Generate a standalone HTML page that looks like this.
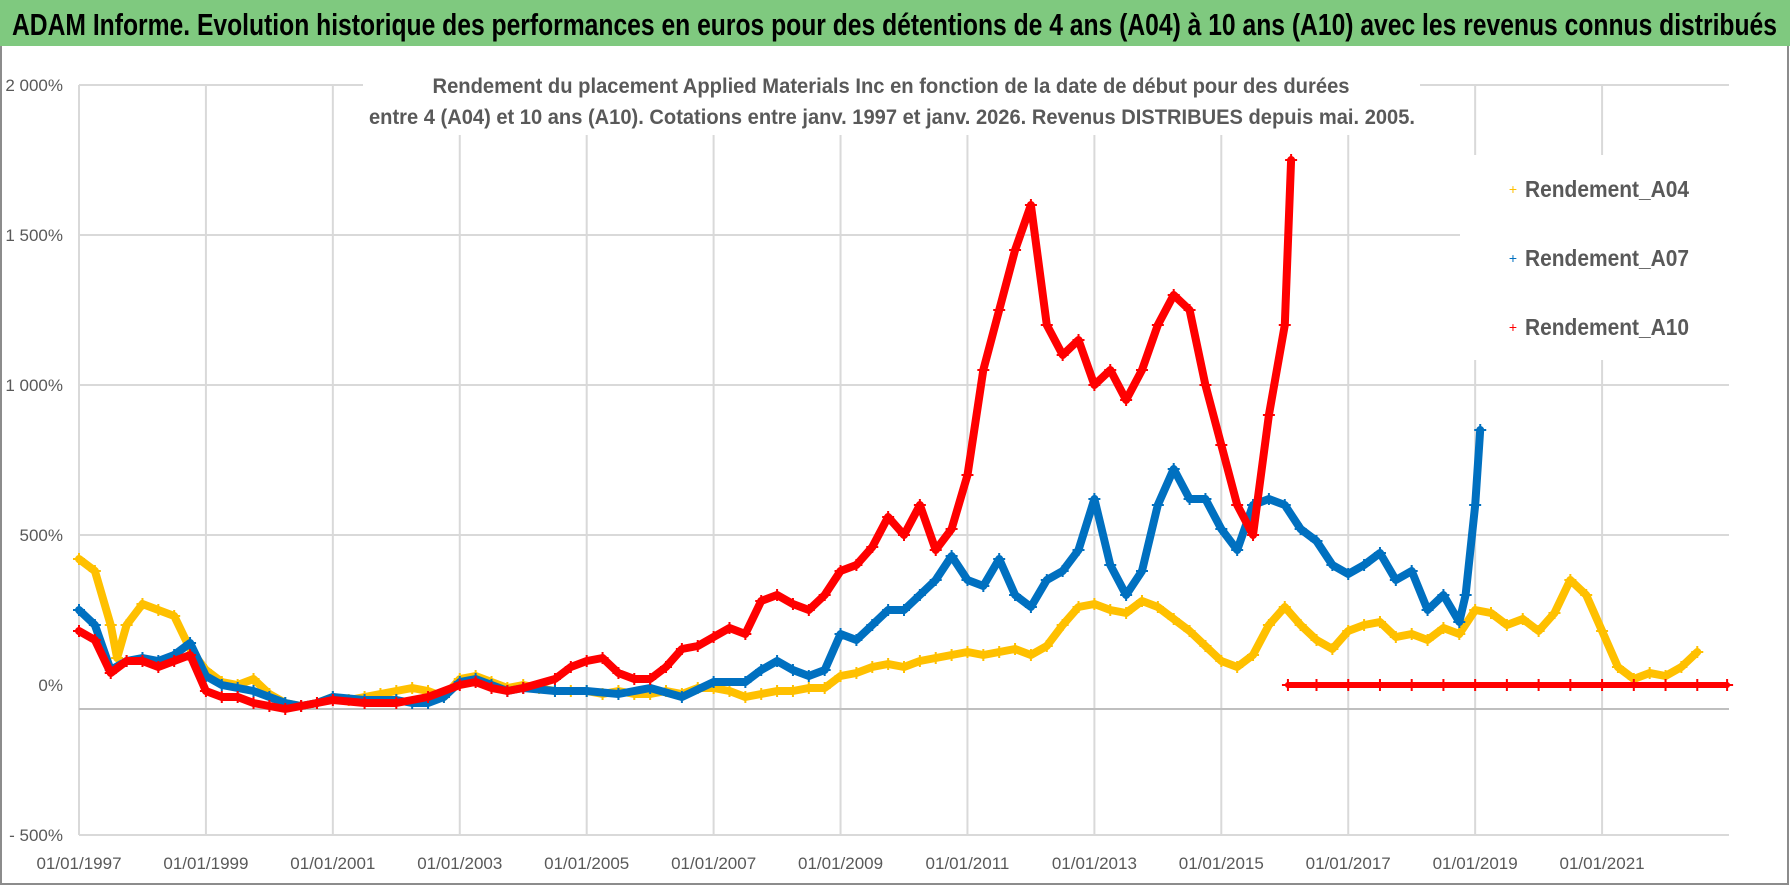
<!DOCTYPE html>
<html><head><meta charset="utf-8"><style>
html,body{margin:0;padding:0;background:#fff}
svg{display:block}
text{font-family:"Liberation Sans Narrow","Liberation Sans",sans-serif}
</style></head><body>
<svg id="chart" width="1790" height="886" viewBox="0 0 1790 886" xmlns="http://www.w3.org/2000/svg">
<rect x="0" y="0" width="1790" height="886" fill="#fff"/>
<rect x="1" y="45" width="1787" height="839" fill="#fff" stroke="#8c8c8c" stroke-width="2"/>
<rect x="0" y="0" width="1790" height="46" fill="#7fc97f"/>
<text x="12" y="35" font-size="31" font-weight="bold" fill="#000" textLength="1765" lengthAdjust="spacingAndGlyphs">ADAM Informe. Evolution historique des performances en euros pour des détentions de 4 ans (A04) à 10 ans (A10) avec les revenus connus distribués</text>
<g id="grid"></g>
<rect x="363" y="68" width="1057" height="67" fill="#fff"/>
<text x="891" y="93" font-size="21" font-weight="bold" fill="#595959" text-anchor="middle" textLength="917" lengthAdjust="spacingAndGlyphs">Rendement du placement Applied Materials Inc en fonction de la date de début pour des durées</text>
<text x="892" y="124" font-size="21" font-weight="bold" fill="#595959" text-anchor="middle" textLength="1046" lengthAdjust="spacingAndGlyphs">entre 4 (A04) et 10 ans (A10). Cotations entre janv. 1997 et janv. 2026. Revenus DISTRIBUES depuis mai. 2005.</text>
<rect x="1460" y="155" width="270" height="205" fill="#fff"/>
<g id="axes"></g>
<g id="series"></g>
<g>
 <g><text x="1513" y="194" font-size="14" fill="#ffc000" text-anchor="middle">+</text><text x="1525" y="197" font-size="23" font-weight="bold" fill="#595959" textLength="164" lengthAdjust="spacingAndGlyphs">Rendement_A04</text></g>
 <g><text x="1513" y="263" font-size="14" fill="#0070c0" text-anchor="middle">+</text><text x="1525" y="266" font-size="23" font-weight="bold" fill="#595959" textLength="164" lengthAdjust="spacingAndGlyphs">Rendement_A07</text></g>
 <g><text x="1513" y="332" font-size="14" fill="#ff0000" text-anchor="middle">+</text><text x="1525" y="335" font-size="23" font-weight="bold" fill="#595959" textLength="164" lengthAdjust="spacingAndGlyphs">Rendement_A10</text></g>
</g>
</svg>
<script>
const yTicks = [2000, 1500, 1000, 500, 0, -500];
const yTickLabels = ["2 000%", "1 500%", "1 000%", "500%", "0%", "- 500%"];
const xTickYears = [1997, 1999, 2001, 2003, 2005, 2007, 2009, 2011, 2013, 2015, 2017, 2019, 2021];
const xTickLabels = ["01/01/1997","01/01/1999","01/01/2001","01/01/2003","01/01/2005","01/01/2007","01/01/2009","01/01/2011","01/01/2013","01/01/2015","01/01/2017","01/01/2019","01/01/2021"];
const axisCross = -80;

const a04Dates = [1997,1997.25,1997.5,1997.6,1997.75,1998,1998.25,1998.5,1998.75,1999,1999.25,1999.5,1999.75,2000,2000.25,2000.5,2000.75,2001,2001.25,2001.5,2001.75,2002,2002.25,2002.5,2002.75,2003,2003.25,2003.5,2003.75,2004,2004.25,2004.5,2004.75,2005,2005.25,2005.5,2005.75,2006,2006.25,2006.5,2006.75,2007,2007.25,2007.5,2007.75,2008,2008.25,2008.5,2008.75,2009,2009.25,2009.5,2009.75,2010,2010.25,2010.5,2010.75,2011,2011.25,2011.5,2011.75,2012,2012.25,2012.5,2012.75,2013,2013.25,2013.5,2013.75,2014,2014.25,2014.5,2014.75,2015,2015.25,2015.5,2015.75,2016,2016.25,2016.5,2016.75,2017,2017.25,2017.5,2017.75,2018,2018.25,2018.5,2018.75,2019,2019.25,2019.5,2019.75,2020,2020.25,2020.5,2020.75,2021,2021.25,2021.5,2021.75,2022,2022.25,2022.5];
const a04Values = [420,380,200,90,200,270,250,230,120,50,10,0,20,-30,-60,-70,-60,-40,-50,-40,-30,-20,-10,-20,-40,20,30,10,-10,0,-10,-20,-20,-20,-30,-20,-30,-30,-20,-30,-10,-10,-20,-40,-30,-20,-20,-10,-10,30,40,60,70,60,80,90,100,110,100,110,120,100,130,200,260,270,250,240,280,260,220,180,130,80,60,100,200,260,200,150,120,180,200,210,160,170,150,190,170,250,240,200,220,180,240,350,300,180,60,20,40,30,60,110];

const a07Dates = [1997,1997.25,1997.5,1997.75,1998,1998.25,1998.5,1998.75,1999,1999.25,1999.5,1999.75,2000,2000.25,2000.5,2000.75,2001,2001.5,2002,2002.25,2002.5,2002.75,2003,2003.25,2003.5,2003.75,2004,2004.5,2005,2005.5,2006,2006.5,2007,2007.5,2007.75,2008,2008.25,2008.5,2008.75,2009,2009.25,2009.5,2009.75,2010,2010.25,2010.5,2010.75,2011,2011.25,2011.5,2011.75,2012,2012.25,2012.5,2012.75,2013,2013.25,2013.5,2013.75,2014,2014.25,2014.5,2014.75,2015,2015.25,2015.5,2015.75,2016,2016.25,2016.5,2016.75,2017,2017.25,2017.5,2017.75,2018,2018.25,2018.5,2018.75,2018.85,2019,2019.08];
const a07Values = [250,200,50,80,90,80,100,140,30,0,-10,-20,-40,-60,-70,-60,-40,-50,-50,-60,-60,-40,10,20,0,-20,-10,-20,-20,-30,-10,-40,10,10,50,80,50,30,50,170,150,200,250,250,300,350,430,350,330,420,300,260,350,380,450,620,400,300,380,600,720,620,620,520,450,600,620,600,520,480,400,370,400,440,350,380,250,300,210,300,600,850];

const a10Dates = [1997,1997.25,1997.5,1997.75,1998,1998.25,1998.5,1998.75,1999,1999.25,1999.5,1999.75,2000,2000.25,2000.5,2000.75,2001,2001.5,2002,2002.5,2003,2003.25,2003.5,2003.75,2004,2004.5,2004.75,2005,2005.25,2005.5,2005.75,2006,2006.25,2006.5,2006.75,2007,2007.25,2007.5,2007.75,2008,2008.25,2008.5,2008.75,2009,2009.25,2009.5,2009.75,2010,2010.25,2010.5,2010.75,2011,2011.25,2011.5,2011.75,2012,2012.25,2012.5,2012.75,2013,2013.25,2013.5,2013.75,2014,2014.25,2014.5,2014.75,2015,2015.25,2015.5,2015.75,2016,2016.1];
const a10Values = [180,150,40,80,80,60,80,100,-20,-40,-40,-60,-70,-80,-70,-60,-50,-60,-60,-40,0,10,-10,-20,-10,20,60,80,90,40,20,20,60,120,130,160,190,170,280,300,270,250,300,380,400,460,560,500,600,450,520,700,1050,1250,1450,1600,1200,1100,1150,1000,1050,950,1050,1200,1300,1250,1000,800,600,500,900,1200,1750];
const a10FlatDates = [2016.05,2016.5,2017,2017.5,2018,2018.5,2019,2019.5,2020,2020.5,2021,2021.5,2022,2022.5,2022.97];
const a10FlatValues = [0,0,0,0,0,0,0,0,0,0,0,0,0,0,0];

const NS = "http://www.w3.org/2000/svg";
const X0 = 79, X1 = 1729, Y0 = 685, PX_PER_PCT = 0.3;
function xScale(year){ return X0 + (year - 1997) / 26 * (X1 - X0); }
function yScale(v){ return Y0 - v * PX_PER_PCT; }
function mk(tag, attrs, parent){ const e = document.createElementNS(NS, tag); for (const k in attrs) e.setAttribute(k, attrs[k]); parent.appendChild(e); return e; }

const grid = document.getElementById('grid');
const axes = document.getElementById('axes');
const series = document.getElementById('series');

yTicks.forEach(function(v, i){
  if (v !== 0) {
    const l = mk('line', {x1: X0, x2: X1, y1: yScale(v), y2: yScale(v), stroke: '#d9d9d9', 'stroke-width': 2}, grid);
    
    
  }
  const t = mk('text', {x: 63, y: yScale(v) + 6, 'font-size': 17, fill: '#595959', 'text-anchor': 'end'}, axes);
  t.textContent = yTickLabels[i];
  
  
});
xTickYears.forEach(function(yr, i){
  const l = mk('line', {x1: xScale(yr), x2: xScale(yr), y1: yScale(2000), y2: yScale(-500), stroke: '#d9d9d9', 'stroke-width': 2}, grid);
  
  
  const t = mk('text', {x: xScale(yr), y: 869, 'font-size': 17, fill: '#595959', 'text-anchor': 'middle'}, axes);
  t.textContent = xTickLabels[i];
  
  
});
const ax = mk('line', {x1: X0, x2: X1, y1: yScale(axisCross), y2: yScale(axisCross), stroke: '#bfbfbf', 'stroke-width': 2}, axes);



function drawSeries(dates, values, color, name, width){
  const g = mk('g', {}, series);
  
  
  const pts = dates.map(function(d, i){ return xScale(d).toFixed(1) + ',' + yScale(values[i]).toFixed(1); }).join(' ');
  const pl = mk('polyline', {points: pts, fill: 'none', stroke: color, 'stroke-width': width, 'stroke-linejoin': 'round', 'stroke-linecap': 'round'}, g);
  
  
  dates.forEach(function(d, i){
    const x = xScale(d), y = yScale(values[i]);
    const p = mk('path', {d: 'M' + (x-6) + ' ' + y + 'h12M' + x + ' ' + (y-6) + 'v12', stroke: color, 'stroke-width': 2}, g);
    
    
  });
}
drawSeries(a04Dates, a04Values, '#ffc000', 'series-a04', 8);
drawSeries(a07Dates, a07Values, '#0070c0', 'series-a07', 8);
drawSeries(a10Dates, a10Values, '#ff0000', 'series-a10', 8);
drawSeries(a10FlatDates, a10FlatValues, '#ff0000', 'series-a10-flat', 6);
</script>
</body></html>
